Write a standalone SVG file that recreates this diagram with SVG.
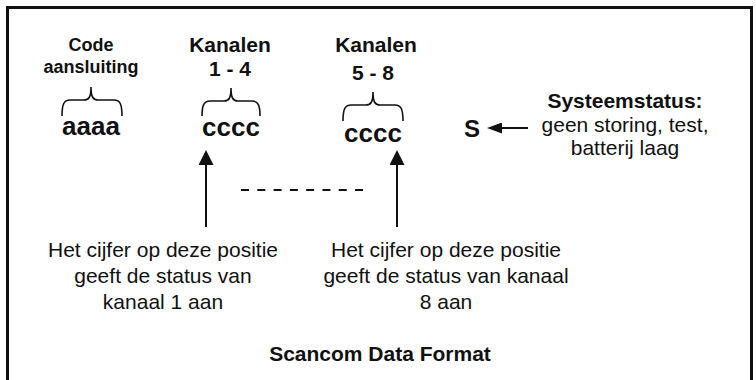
<svg xmlns="http://www.w3.org/2000/svg" width="756" height="380" viewBox="0 0 756 380">
  <style>
    text { font-family: "Liberation Sans", Arial, Helvetica, sans-serif; fill: #111; text-anchor: middle; }
    .b { font-weight: bold; }
    .lbl { font-size: 18px; font-weight: bold; }
    .hdr { font-size: 21px; font-weight: bold; }
    .code { font-size: 26px; font-weight: bold; }
    .reg { font-size: 21px; }
    .brace { fill: none; stroke: #111; stroke-width: 1.6; }
    .shaft { stroke: #111; stroke-width: 2; fill: none; }
    .dash { stroke: #111; stroke-width: 2; stroke-dasharray: 8 8.29; }
  </style>
  <defs>
    <marker id="ahUp" viewBox="0 0 15 15" refX="0" refY="7.5" markerWidth="15" markerHeight="15" markerUnits="userSpaceOnUse" orient="auto">
      <path d="M0,0 L15,7.5 L0,15 z" fill="#111"/>
    </marker>
    <marker id="ahS" viewBox="0 0 15 11" refX="0" refY="5.5" markerWidth="15" markerHeight="11" markerUnits="userSpaceOnUse" orient="auto">
      <path d="M0,0 L15,5.5 L0,11 z" fill="#111"/>
    </marker>
  </defs>

  <rect id="frame" x="7.5" y="7.5" width="744" height="400" fill="#fff" stroke="#111" stroke-width="3"/>

  <g id="code-aansluiting">
    <text class="lbl" x="91" y="51">Code</text>
    <text class="lbl" x="91" y="73">aansluiting</text>
    <path class="brace" d="M62,116 C62,104 64,100 70,100 L84,100 C89,100 91,97 91,87 C91,97 93,100 98,100 L114,100 C120,100 122,104 122,116"/>
    <text class="code" x="91" y="135">aaaa</text>
  </g>

  <g id="kanalen-1-4">
    <text class="hdr" x="230" y="52">Kanalen</text>
    <text class="hdr" x="230" y="76">1 - 4</text>
    <path class="brace" d="M202,116 C202,105 204,101 210,101 L224,101 C229,101 231,98 231,88 C231,98 233,101 238,101 L252,101 C258,101 260,105 260,116"/>
    <text class="code" x="231" y="136">cccc</text>
  </g>

  <g id="kanalen-5-8">
    <text class="hdr" x="376" y="52">Kanalen</text>
    <text class="hdr" x="373" y="80">5 - 8</text>
    <path class="brace" d="M343,121 C343,109 345,105 351,105 L366,105 C371,105 373,102 373,92 C373,102 375,105 380,105 L395,105 C401,105 403,109 403,121"/>
    <text class="code" x="373" y="142">cccc</text>
  </g>

  <g id="systeemstatus-s">
    <text class="b" x="472" y="137" style="font-size:24px">S</text>
  </g>

  <g id="systeemstatus">
    <text class="hdr" x="625" y="108">Systeemstatus:</text>
    <text class="reg" x="625" y="132">geen storing, test,</text>
    <text class="reg" x="625" y="155">batterij laag</text>
  </g>

  <g id="status-kanaal-1">
    <text class="reg" x="163" y="257">Het cijfer op deze positie</text>
    <text class="reg" x="163" y="283">geeft de status van</text>
    <text class="reg" x="163" y="309">kanaal 1 aan</text>
  </g>

  <g id="status-kanaal-8">
    <text class="reg" x="446" y="257">Het cijfer op deze positie</text>
    <text class="reg" x="446" y="283">geeft de status van kanaal</text>
    <text class="reg" x="446" y="309">8 aan</text>
  </g>

  <g id="title">
    <text class="b" x="380" y="361" style="font-size:21px">Scancom Data Format</text>
  </g>

  <g id="connectors">
    <line class="shaft" x1="206" y1="227" x2="206" y2="165" marker-end="url(#ahUp)"/>
    <line class="shaft" x1="397" y1="227" x2="397" y2="165" marker-end="url(#ahUp)"/>
    <line class="shaft" x1="528" y1="128" x2="502" y2="128" marker-end="url(#ahS)"/>
    <line class="dash" x1="241" y1="190" x2="363" y2="190"/>
  </g>
</svg>
